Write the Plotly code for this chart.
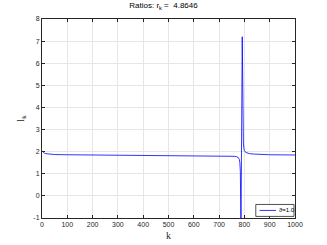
import plotly.graph_objects as go

k_vals = [0, 3, 6, 10, 15, 20, 30, 50, 100, 200, 300, 400, 500, 600, 700, 740, 760, 770, 776, 780, 782, 784, 785, 786,
          791, 792, 793, 794, 796, 798, 800, 805, 810, 820, 840, 870, 900, 950, 1000]
l_vals = [2.03, 1.99, 1.96, 1.93, 1.91, 1.90, 1.88, 1.87, 1.86, 1.85, 1.84, 1.84, 1.83, 1.83, 1.82, 1.81, 1.79, 1.77, 1.73, 1.65, 1.5, 1.1, 0.3, -1.5,
          None, 7.2, 4.5, 3.0, 2.4, 2.15, 2.05, 1.97, 1.94, 1.91, 1.89, 1.87, 1.86, 1.855, 1.85]
# connect the pole as a near-vertical line
k_plot = k_vals[:24] + [786.5, 791.5] + k_vals[25:]
l_plot = l_vals[:24] + [-1.5, 7.2] + l_vals[25:]

x_ticks = [0, 100, 200, 300, 400, 500, 600, 700, 800, 900, 1000]
y_ticks = [-1, 0, 1, 2, 3, 4, 5, 6, 7, 8]
legend_label = "\u03d1=1.0"

fig = go.Figure()
fig.add_trace(go.Scatter(x=k_plot, y=l_plot, mode="lines", line=dict(color="#0000ff", width=0.8),
                         name=legend_label, connectgaps=True, showlegend=False, hoverinfo="skip"))

axis_common = dict(showgrid=True, gridcolor="#e6e6e6", gridwidth=1, showline=True, linecolor="#262626",
                   linewidth=1, mirror="ticks", ticks="inside", ticklen=3, tickcolor="#262626",
                   tickfont=dict(family="Liberation Sans, Arial", size=7, color="#262626"), zeroline=False,
                   automargin=False)

# compact legend box (lower right, inside axes)
fig.add_shape(type="rect", xref="paper", yref="paper", x0=0.845, x1=0.996, y0=0.008, y1=0.068,
              line=dict(color="#262626", width=0.8), fillcolor="white", layer="above")
fig.add_shape(type="line", xref="paper", yref="paper", x0=0.86, x1=0.925, y0=0.038, y1=0.038,
              line=dict(color="#0000ff", width=0.8), layer="above")
fig.add_annotation(text=legend_label, xref="paper", yref="paper", x=0.93, y=0.038, xanchor="left", yanchor="middle",
                   showarrow=False, font=dict(family="Liberation Sans, Arial", size=6, color="black"))

fig.update_layout(
    width=327, height=245,
    margin=dict(l=42, r=32, t=19, b=27),
    paper_bgcolor="white", plot_bgcolor="white",
    title=dict(text="Ratios: r<sub>k</sub> =  4.8646", x=0.5, xanchor="center", y=0.99, yanchor="top",
               font=dict(family="Liberation Sans, Arial", size=8, color="black")),
    xaxis=dict(range=[0, 1000], tickvals=x_ticks, ticktext=[str(v) for v in x_ticks],
               title=dict(text="k", font=dict(family="Liberation Serif, Times New Roman", size=10, color="#262626"), standoff=4),
               **axis_common),
    yaxis=dict(range=[-1, 8], tickvals=y_ticks, ticktext=[str(v) for v in y_ticks],
               title=dict(text="l<sub>k</sub>", font=dict(family="Liberation Serif, Times New Roman", size=10, color="#262626"), standoff=6),
               **axis_common),
    showlegend=False,
    hovermode=False,
)

fig.write_html("out.html", config={"displayModeBar": False, "staticPlot": True},
               post_script="document.body.style.margin='0';document.body.style.padding='0';")
